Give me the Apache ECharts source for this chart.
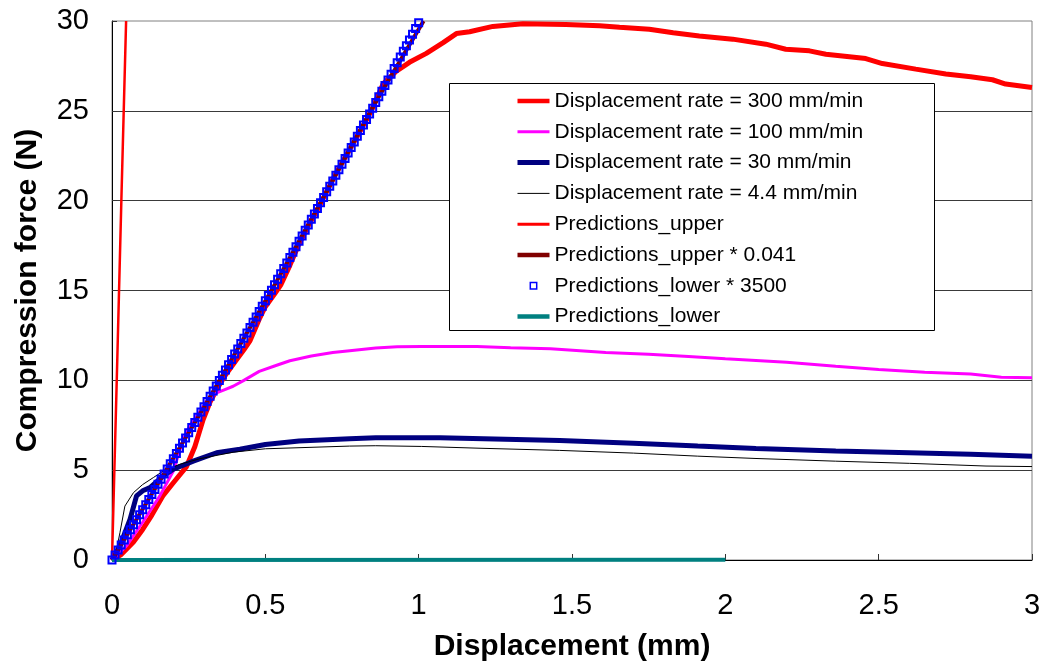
<!DOCTYPE html>
<html><head><meta charset="utf-8">
<script src="https://cdn.jsdelivr.net/npm/echarts@6/dist/echarts.min.js"></script>
<style>html,body{margin:0;padding:0;background:#fff}#c{width:1053px;height:669px}</style>
</head><body><div id="c"></div>
<script>
const seriesNames = ['Displacement rate = 300 mm/min','Displacement rate = 100 mm/min','Displacement rate = 30 mm/min','Displacement rate = 4.4 mm/min','Predictions_upper','Predictions_upper * 0.041','Predictions_lower * 3500','Predictions_lower'];
const xTickLabels = ['0','0.5','1','1.5','2','2.5','3'];
const yTickLabels = ['0','5','10','15','20','25','30'];

const rate300X = [0,0.03,0.07,0.1,0.13,0.167,0.2,0.243,0.27,0.297,0.32,0.345,0.37,0.4,0.43,0.45,0.48,0.5,0.53,0.55,0.58,0.61,0.64,0.67,0.7,0.73,0.76,0.8,0.83,0.851,0.884,0.927,0.97,1.025,1.08,1.123,1.166,1.242,1.34,1.48,1.59,1.655,1.752,1.83,1.915,2.024,2.132,2.197,2.274,2.328,2.458,2.512,2.621,2.719,2.8,2.871,2.914,3.0];
const rate300Y = [0,0.3,1.0,1.7,2.5,3.6,4.3,5.2,6.3,7.8,8.8,9.6,10.3,11.0,11.7,12.2,13.4,14.1,14.8,15.3,16.4,17.6,18.6,19.5,20.5,21.5,22.4,23.6,24.5,25.2,26.5,27.2,27.7,28.2,28.8,29.3,29.4,29.7,29.85,29.8,29.73,29.65,29.54,29.35,29.17,28.99,28.71,28.43,28.34,28.15,27.91,27.63,27.32,27.05,26.9,26.73,26.49,26.3];

const rate100X = [0,0.048,0.1,0.156,0.2,0.232,0.254,0.28,0.31,0.341,0.37,0.395,0.43,0.48,0.53,0.58,0.65,0.72,0.775,0.86,0.93,1.01,1.19,1.3,1.43,1.61,1.75,1.88,2.0,2.1,2.2,2.36,2.5,2.65,2.8,2.9,3.0];
const rate100Y = [0,0.8,2.1,3.57,4.95,6.7,7.5,8.1,8.9,9.3,9.5,9.67,10.0,10.5,10.8,11.09,11.35,11.55,11.65,11.8,11.87,11.89,11.89,11.82,11.76,11.55,11.45,11.33,11.2,11.1,11.0,10.78,10.6,10.45,10.35,10.17,10.15];

const rate30X = [0,0.026,0.059,0.08,0.1,0.124,0.167,0.2,0.265,0.341,0.417,0.5,0.61,0.775,0.86,1.07,1.46,1.7,1.91,2.1,2.36,2.6,2.8,3.0];
const rate30Y = [0,0.8,2.27,3.57,3.85,4.03,4.68,5.05,5.5,5.97,6.16,6.43,6.62,6.75,6.8,6.8,6.65,6.5,6.34,6.2,6.06,5.97,5.88,5.78];

const rate44X = [0,0.015,0.026,0.042,0.07,0.1,0.135,0.167,0.22,0.287,0.395,0.5,0.775,0.86,1.01,1.2,1.46,1.7,1.91,2.1,2.36,2.6,2.85,3.0];
const rate44Y = [0,0.6,1.53,3.0,3.75,4.2,4.59,4.95,5.32,5.64,6.0,6.19,6.34,6.36,6.32,6.22,6.1,5.95,5.78,5.65,5.5,5.38,5.23,5.2];

const upperX = [0,0.0155,0.0305,0.046];
const upperY = [0,10,20,30];

const upperScaledX = [0,0.3,0.53,0.69,0.85,1.016];
const upperScaledY = [0,8.5,15.3,20.2,25.2,30];

const lowerScaledX = [0,0.01,0.02,0.03,0.04,0.05,0.06,0.07,0.08,0.09,0.1,0.11,0.12,0.13,0.14,0.15,0.16,0.17,0.18,0.19,0.2,0.21,0.22,0.23,0.24,0.25,0.26,0.27,0.28,0.29,0.3,0.31,0.32,0.33,0.34,0.35,0.36,0.37,0.38,0.39,0.4,0.41,0.42,0.43,0.44,0.45,0.46,0.47,0.48,0.49,0.5,0.51,0.52,0.53,0.54,0.55,0.56,0.57,0.58,0.59,0.6,0.61,0.62,0.63,0.64,0.65,0.66,0.67,0.68,0.69,0.7,0.71,0.72,0.73,0.74,0.75,0.76,0.77,0.78,0.79,0.8,0.81,0.82,0.83,0.84,0.85,0.86,0.87,0.88,0.89,0.9,0.91,0.92,0.93,0.94,0.95,0.96,0.97,0.98,0.99,1.0];
const lowerScaledY = [0,0.28,0.56,0.84,1.12,1.40,1.68,1.96,2.24,2.52,2.80,3.08,3.37,3.65,3.93,4.22,4.50,4.79,5.07,5.36,5.64,5.93,6.22,6.51,6.79,7.08,7.37,7.66,7.95,8.24,8.53,8.82,9.11,9.40,9.69,9.99,10.28,10.57,10.87,11.16,11.46,11.75,12.05,12.34,12.64,12.94,13.23,13.53,13.83,14.13,14.43,14.72,15.02,15.32,15.62,15.93,16.23,16.53,16.83,17.13,17.44,17.74,18.04,18.35,18.65,18.96,19.26,19.57,19.88,20.18,20.49,20.80,21.10,21.41,21.72,22.03,22.34,22.65,22.96,23.27,23.58,23.90,24.21,24.52,24.83,25.15,25.46,25.78,26.09,26.41,26.72,27.04,27.35,27.67,27.99,28.31,28.62,28.94,29.26,29.58,29.90];

const lowerX = [0,2];
const lowerY = [0,0.02];

const pairs = (xs, ys) => xs.map((x, i) => [x, ys[i]]);
const FONT = "'Liberation Sans', Arial, sans-serif";

const lineSeries = (name, xs, ys, color, width) => ({
  name, type: 'line', data: pairs(xs, ys), symbol: 'none', smooth: false,
  lineStyle: { color, width }, itemStyle: { color }, z: 2
});

const chart = echarts.init(document.getElementById('c'), null, { renderer: 'canvas' });
const hidden = { color: 'rgba(0,0,0,0)', borderWidth: 0 };
const legLine = (name, color, width) => ({ name, itemStyle: hidden, lineStyle: { color, width, opacity: 1 } });
chart.setOption({
  animation: false,
  backgroundColor: '#ffffff',
  grid: { left: 112, top: 21, right: 21, bottom: 109, show: true, borderColor: '#808080', borderWidth: 1 },
  xAxis: {
    type: 'value', min: 0, max: 3, interval: 0.5,
    name: 'Displacement (mm)', nameLocation: 'middle', nameGap: 72,
    nameTextStyle: { fontFamily: FONT, fontSize: 30, fontWeight: 'bold', color: '#000' },
    axisLine: { show: true, onZero: false, lineStyle: { color: '#000', width: 1 } },
    axisTick: { show: true, inside: true, length: 6, lineStyle: { color: '#333' } },
    axisLabel: { fontFamily: FONT, fontSize: 29, color: '#000', margin: 31,
      formatter: v => xTickLabels[Math.round(v / 0.5)] },
    splitLine: { show: false }
  },
  yAxis: {
    type: 'value', min: 0, max: 30, interval: 5,
    name: 'Compression force (N)', nameLocation: 'middle', nameGap: 69,
    nameTextStyle: { fontFamily: FONT, fontSize: 30, fontWeight: 'bold', color: '#000' },
    axisLine: { show: true, lineStyle: { color: '#000', width: 1 } },
    axisTick: { show: true, inside: true, length: 5, lineStyle: { color: '#333' } },
    axisLabel: { fontFamily: FONT, fontSize: 29, color: '#000', margin: 23,
      formatter: v => yTickLabels[Math.round(v / 5)] },
    splitLine: { show: true, showMaxLine: false, lineStyle: { color: '#3a3a3a', width: 1 } }
  },
  graphic: [{
    type: 'rect', z: 5, left: 449, top: 83,
    shape: { width: 485, height: 247 },
    style: { fill: '#fff', stroke: '#000', lineWidth: 1 }
  }],
  legend: {
    z: 6, orient: 'vertical', left: 515, top: 90,
    itemWidth: 32, itemHeight: 8, itemGap: 8.8, padding: 0,
    selectedMode: false,
    textStyle: { fontFamily: FONT, fontSize: 21, color: '#000', lineHeight: 22 },
    data: [
      legLine(seriesNames[0], '#ff0000', 4.5),
      legLine(seriesNames[1], '#ff00ff', 3),
      legLine(seriesNames[2], '#000080', 5),
      legLine(seriesNames[3], '#000000', 1),
      legLine(seriesNames[4], '#ff0000', 3),
      legLine(seriesNames[5], '#800000', 4.5),
      { name: seriesNames[6], lineStyle: { opacity: 0, width: 0 }, itemStyle: { color: '#fff', borderColor: '#0000ff', borderWidth: 1.5 } },
      legLine(seriesNames[7], '#008080', 4.5)
    ]
  },
  series: [
    lineSeries(seriesNames[0], rate300X, rate300Y, '#ff0000', 5),
    lineSeries(seriesNames[1], rate100X, rate100Y, '#ff00ff', 3),
    lineSeries(seriesNames[2], rate30X, rate30Y, '#000080', 5),
    lineSeries(seriesNames[3], rate44X, rate44Y, '#000000', 1),
    lineSeries(seriesNames[4], upperX, upperY, '#ff0000', 2.5),
    lineSeries(seriesNames[5], upperScaledX, upperScaledY, '#800000', 4),
    {
      name: seriesNames[6], type: 'line', data: pairs(lowerScaledX, lowerScaledY),
      symbol: 'rect', symbolSize: 7, showSymbol: true, showAllSymbol: true,
      lineStyle: { width: 0, opacity: 0 },
      itemStyle: { color: 'rgba(0,0,0,0)', borderColor: '#0000ff', borderWidth: 2 }, z: 3
    },
    lineSeries(seriesNames[7], lowerX, lowerY, '#008080', 4)
  ]
});
</script>
</body></html>
